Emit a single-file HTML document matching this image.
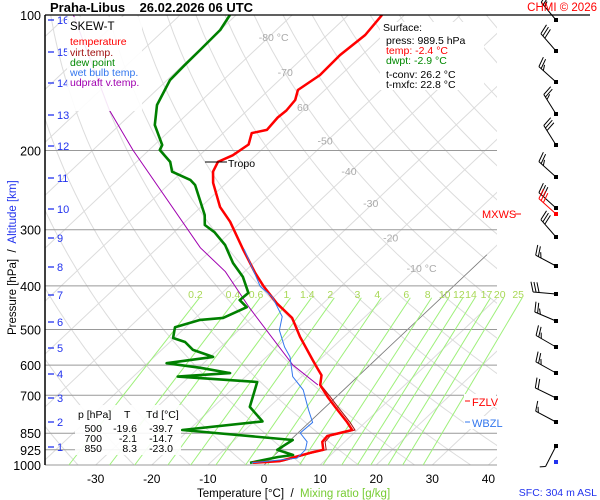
<!DOCTYPE html>
<html><head><meta charset="utf-8"><style>
html,body{margin:0;padding:0;background:#fff;}
svg{display:block;font-family:"Liberation Sans",sans-serif;}
svg text{white-space:pre;}
</style></head><body>
<svg id="c" width="600" height="500" viewBox="0 0 600 500" xmlns="http://www.w3.org/2000/svg">
<defs><clipPath id="pc"><rect x="45" y="15" width="452" height="450"/></clipPath></defs>
<g id="grid" clip-path="url(#pc)"></g>
<g id="hlines"></g>
<g id="mix"></g>
<g id="series" clip-path="url(#pc)"></g>
<g id="wind"></g>
<g id="axes"></g>

<text x="50" y="12" font-size="13" font-weight="bold">Praha-Libus    26.02.2026 06 UTC</text>
<text x="597" y="11" font-size="11.5" fill="#f00" text-anchor="end">CHMI © 2026</text>

<g font-size="10.5">
<rect x="67" y="17" width="75" height="94" fill="#fff" opacity="0.9"/>
<text x="70" y="30" fill="#000" font-size="11.5">SKEW-T</text>
<text x="70" y="45" fill="#f00">temperature</text>
<text x="70" y="56" fill="#a01010">virt.temp.</text>
<text x="70" y="66" fill="#080">dew point</text>
<text x="70" y="76" fill="#3377ee">wet bulb temp.</text>
<text x="70" y="86" fill="#a000b0">udpraft v.temp.</text>
</g>

<g font-size="10.5">
<rect x="380" y="22" width="104" height="68" fill="#fff"/>
<text x="383" y="31">Surface:</text>
<text x="386" y="44">press: 989.5 hPa</text>
<text x="386" y="54" fill="#f00">temp: -2.4 °C</text>
<text x="386" y="64" fill="#080">dwpt: -2.9 °C</text>
<text x="386" y="78">t-conv: 26.2 °C</text>
<text x="386" y="88">t-mxfc: 22.8 °C</text>
</g>

<g font-size="10.5">
<rect x="75" y="405" width="106" height="50" fill="#fff" opacity="0.9"/>
<text x="78" y="418">p [hPa]</text><text x="124" y="418">T</text><text x="146" y="418">Td [°C]</text>
<text x="102" y="432" text-anchor="end">500</text><text x="137" y="432" text-anchor="end">-19.6</text><text x="173" y="432" text-anchor="end">-39.7</text>
<text x="102" y="442" text-anchor="end">700</text><text x="137" y="442" text-anchor="end">-2.1</text><text x="173" y="442" text-anchor="end">-14.7</text>
<text x="102" y="452" text-anchor="end">850</text><text x="137" y="452" text-anchor="end">8.3</text><text x="173" y="452" text-anchor="end">-23.0</text>
</g>

<g>
<line x1="205" y1="162" x2="227" y2="162" stroke="#000" stroke-width="1"/>
<text x="228" y="167" font-size="10.5">Tropo</text>
</g>
<g><rect x="464" y="394" width="32" height="13" fill="#fff"/><line x1="465" y1="401" x2="470" y2="401" stroke="#f00"/><text x="472" y="406" font-size="11" fill="#f00">FZLV</text></g>
<g><rect x="464" y="416" width="32" height="13" fill="#fff"/><line x1="465" y1="422" x2="470" y2="422" stroke="#3377ee"/><text x="472" y="427" font-size="11" fill="#3377ee">WBZL</text></g>
<g><text x="482" y="218" font-size="11" fill="#f00">MXWS</text><line x1="515" y1="214" x2="521" y2="214" stroke="#f00"/></g>

<text x="197" y="497" font-size="11.5">Temperature [°C]  /  <tspan fill="#7c3">Mixing ratio [g/kg]</tspan></text>
<text x="597" y="496" font-size="10.5" fill="#2233ee" text-anchor="end">SFC: 304 m ASL</text>
<text transform="translate(16,335) rotate(-90)" font-size="11.5">Pressure [hPa]  /  <tspan fill="#2233ee">Altitude [km]</tspan></text>
</svg>
<script>
// ---- data ----
const tempP = [989,980,940,925,888,862,836,804,743,706,664,632,606,585,519,471,437,401,374,331,288,267,236,223,212,205,194,183,180,169,163,154.5,146.8,136,122.7,110.8,100];
const tempT = [-2.4,2.1,5.9,7.7,6.0,5.8,9.1,6.8,1.7,-1.5,-5.1,-6.7,-9.1,-11.1,-17.8,-22.8,-28.3,-33.8,-37.9,-44.6,-52.0,-56.6,-62.4,-64.5,-65.5,-64.1,-63.3,-64.9,-62.8,-63.2,-63.0,-63.4,-64.8,-63.7,-63.9,-63.2,-64.0];
const dewP = [989,960,950,925,880,836,800,743,654,636,625,608,594,575,555,533,522,494,476,471,446,430,414.5,382,355.7,324.5,303.9,292.8,278.3,257.7,238.6,232.5,223,212,199.5,194.5,175.6,158.5,139.4,129.2,119.6,108,100];
const dewT = [-2.9,1.0,3.3,-0.5,0.4,-21.2,-8.5,-13.5,-16.9,-32.1,-23.4,-29.7,-36.6,-29.5,-34.4,-37.3,-40.2,-41.9,-38.8,-35.1,-32.9,-35.5,-35.3,-39.3,-43.7,-48.5,-52.8,-55.9,-57.8,-61.5,-65.2,-67.0,-71.8,-74.0,-78.1,-78.6,-83.7,-87.1,-89.5,-89.7,-89.8,-90.0,-91.1];
const wetP = [989,966,925,888,849,804,754,681,636,575,547,502,468,423,401,331];
const wetT = [-2.6,4.6,4.5,3.3,0.4,0.6,-2.5,-7.2,-11.6,-15.8,-18.6,-22.7,-24.8,-30.3,-34.4,-44.4];
const updP = [664,600,448,372,329,199.5,163,100];
const updT = [-5.5,-13.7,-32.2,-43.4,-52.4,-82.9,-94.5,-119];
const pLevels = [200,300,400,500,600,700,850,925,1000];
const pLabels = [100,200,300,400,500,600,700,850,925,1000];
const tTicks = [-30,-20,-10,0,10,20,30,40];
const kmTicks = [16,15,14,13,12,11,10,9,8,7,6,5,4,3,2,1];
const mixVals = [0.2,0.4,0.6,1,1.4,2,3,4,6,8,10,12,14,17,20,25];
const isoLabelT = [-80,-70,-60,-50,-40,-30,-20,-10];
const windP = [99,108,119,131,144,158,174,180,199,220,244,267,294,322,349,380,966];
const windDir = [320,319,312,328,328,312,312,312,319,298,275,293,300,299,296,298,207];
const windSpd = [25,30,25,25,30,25,30,30,30,25,30,25,25,25,20,15,5];

{
const NS='http://www.w3.org/2000/svg';
const kmY=[20,52,83,115,146,178,209,238,267,295,322,348,374,398,422,447];
const windY=[20,51,82,114,145,177,208,214,237,266,294,321,347,373,398,422,446];
function yP(p){return 15+450*Math.log10(p/100);}
function xT(T,p){return 264+5.61*T+1.06*(465-yP(p));}
function mk(tag,attrs,parent){const e=document.createElementNS(NS,tag);for(const k in attrs)e.setAttribute(k,attrs[k]);parent.appendChild(e);return e;}
function pathFrom(ps,ts){return ps.map((p,i)=>(i?'L':'M')+xT(ts[i],p).toFixed(1)+' '+yP(p).toFixed(1)).join(' ');}

const grid=document.getElementById('grid');
for(let T=-140;T<=40;T+=10){
  const l=mk('line',{x1:xT(T,1000),y1:yP(1000),x2:xT(T,100),y2:yP(100),stroke:'#dcdcdc','stroke-width':1},grid);
  
  
}
for(let th=230;th<=500;th+=10){
  let d='';for(let p=1000;p>=100;p-=10){const T=th*Math.pow(p/1000,0.286)-273.15;d+=(p===1000?'M':'L')+xT(T,p).toFixed(1)+' '+yP(p).toFixed(1);}
  const a=mk('path',{d:d,fill:'none',stroke:'#dcdcdc','stroke-width':1},grid);
  
  
}
const zl=mk('line',{x1:xT(0,1000),y1:yP(1000),x2:xT(0,341),y2:yP(341),stroke:'#777','stroke-width':0.8},grid);


const isoP=[112,134,160,190,222,262,312,365];
isoLabelT.forEach((T,i)=>{
  const p=isoP[i];
  const t=mk('text',{x:xT(T,p)-10,y:yP(p)+4,'font-size':10.5,fill:'#aaa'},grid);
  t.textContent=(T===-80||T===-10)?T+' °C':(T===-60?'60':String(T));
  
  
});

const hl=document.getElementById('hlines');
pLevels.forEach(p=>{
  const l=mk('line',{x1:45,y1:yP(p),x2:497,y2:yP(p),stroke:'#999','stroke-width':1},hl);
  
  
});

const mix=document.getElementById('mix');
function tdFromW(w,p){const e=w*p/(622+w);const a=Math.log(e/6.112);return 243.5*a/(17.67-a);}
mixVals.forEach(w=>{
  const l=mk('line',{x1:xT(tdFromW(w,1000),1000),y1:yP(1000),x2:xT(tdFromW(w,425),425),y2:yP(425),stroke:'#9ef07a','stroke-width':1},mix);
  
  
  const t=mk('text',{x:xT(tdFromW(w,425),425)-4,y:298,'font-size':10.5,fill:'#a8d855','text-anchor':'middle'},mix);
  t.textContent=String(w);
  
  
});

const ser=document.getElementById('series');
const s1=mk('path',{d:pathFrom(updP,updT),fill:'none',stroke:'#a000b0','stroke-width':1},ser);


const s2=mk('path',{d:pathFrom(dewP,dewT),fill:'none',stroke:'#008000','stroke-width':2.6,'stroke-linejoin':'round'},ser);


const s3=mk('path',{d:pathFrom(tempP,tempT.map((t,i)=>t+(tempP[i]>700?0.5:0.1))),fill:'none',stroke:'#a01010','stroke-width':1},ser);


const s4=mk('path',{d:pathFrom(tempP,tempT),fill:'none',stroke:'#f00','stroke-width':2.5,'stroke-linejoin':'round'},ser);


const s5=mk('path',{d:pathFrom(wetP,wetT),fill:'none',stroke:'#3377ee','stroke-width':1},ser);



const ax=document.getElementById('axes');
const topBorder=mk('line',{x1:45,y1:15,x2:590,y2:15,stroke:'#000','stroke-width':1.2},ax);


const yl=mk('line',{x1:45,y1:15,x2:45,y2:465,stroke:'#000','stroke-width':1.5},ax);


pLabels.forEach(p=>{
  const t=mk('text',{x:41,y:yP(p)+5,'font-size':12.5,'text-anchor':'end'},ax);
  t.textContent=String(p);
  
  
});
tTicks.forEach(T=>{
  const t=mk('text',{x:xT(T,1000),y:483,'font-size':12,'text-anchor':'middle'},ax);
  t.textContent=String(T);
  
  
});
kmTicks.forEach((k,i)=>{
  const l=mk('line',{x1:48,y1:kmY[i],x2:54,y2:kmY[i],stroke:'#2233ee','stroke-width':1.3},ax);
  
  
  const t=mk('text',{x:57,y:kmY[i]+4,'font-size':11,fill:'#2233ee'},ax);
  t.textContent=String(k);
  
  
});

const wg=document.getElementById('wind');
windP.forEach((p,i)=>{
  const y=windY[i];
  const red=(i===7);const col=red?'#f00':'#000';
  const g=mk('g',{},wg);
  
  
  const a=windDir[i]*Math.PI/180;const ux=Math.sin(a),uy=-Math.cos(a);
  const L=23,x0=556,x1=x0+ux*L,y1=y+uy*L;
  mk('line',{x1:x0,y1:y,x2:x1,y2:y1,stroke:col,'stroke-width':1},g);
  mk('rect',{x:x0-2,y:y-2,width:4,height:4,fill:col},g);
  let s=windSpd[i],pos=0;const px=-uy,py=ux;
  while(s>=5){const len=s>=10?10:5;const bx=x1-ux*pos,by=y1-uy*pos;
    mk('line',{x1:bx,y1:by,x2:bx+px*len+ux*3,y2:by+py*len+uy*3,stroke:col,'stroke-width':1},g);
    s-=len;pos+=3;}
});
const sd=mk('rect',{x:554,y:460,width:4,height:4,fill:'#2233ee'},wg);


}
</script>
</body></html>
